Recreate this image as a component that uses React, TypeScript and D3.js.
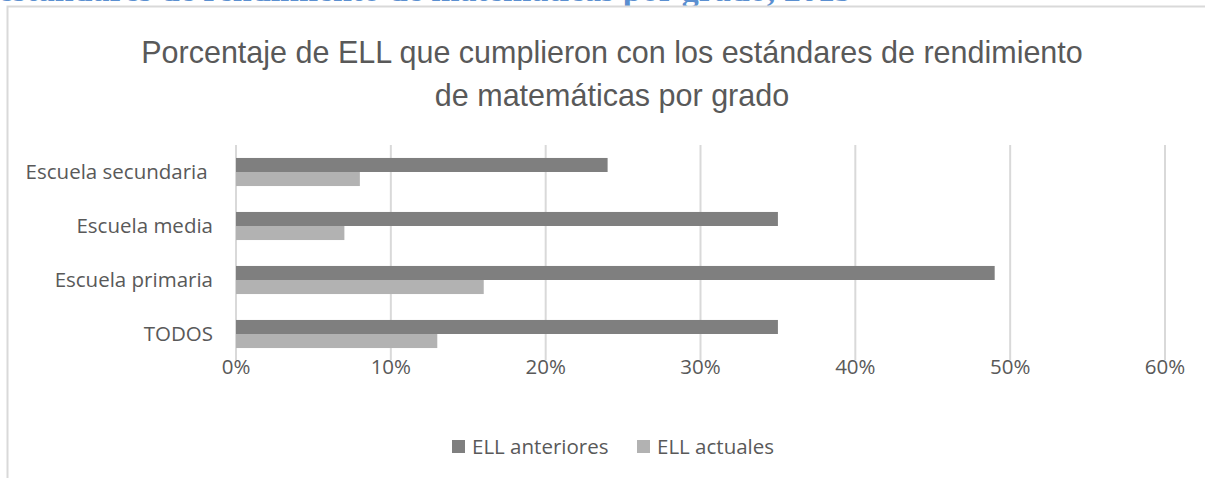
import React from "react";
import * as d3 from "d3";

const categories = ["Escuela secundaria ", "Escuela media", "Escuela primaria", "TODOS"];
const seriesNames = ["ELL anteriores", "ELL actuales"];
const anteriores = [0.24, 0.35, 0.49, 0.35];
const actuales = [0.08, 0.07, 0.16, 0.13];
const xTicks = [0, 0.1, 0.2, 0.3, 0.4, 0.5, 0.6];
const titleLines = [
  "Porcentaje de ELL que cumplieron con los estándares de rendimiento",
  "de matemáticas por grado",
];
const headingText = "estándares de rendimiento de matemáticas por grado, 2015";

const colors = ["#7f7f7f", "#b2b2b2"];
const W = 1205;
const H = 478;

export default function App() {
  const x = d3.scaleLinear().domain([0, 0.6]).range([236, 1165]);
  const y = d3
    .scaleBand<string>()
    .domain(categories)
    .range([145, 361])
    .paddingInner(0.48)
    .paddingOuter(0.24);
  const sub = d3.scaleBand<string>().domain(seriesNames).range([0, y.bandwidth()]);
  const series = [anteriores, actuales];
  const fmt = d3.format(".0%");
  const font = "'Open Sans', sans-serif";
  const fs = 20.5;

  return (
    <div style={{ position: "fixed", left: 0, top: 0 }}>
      <svg width={W} height={H} style={{ display: "block", background: "#fff" }}>
        <text
          x={-2}
          y={1}
          fontFamily="'Liberation Serif', serif"
          fontWeight="bold"
          fontSize={34}
          fill="#5b8fd0"
        >
          {headingText}
        </text>
        <rect x={7.5} y={6.5} width={W} height={H} fill="#fff" stroke="#d9d9d9" strokeWidth={2} />
        {titleLines.map((t, i) => (
          <text
            key={i}
            x={612}
            y={63 + i * 43}
            textAnchor="middle"
            fontFamily="'Liberation Sans', Arial, sans-serif"
            fontSize={30.5}
            fill="#595959"
          >
            {t}
          </text>
        ))}
        {xTicks.map((t) => (
          <g key={t}>
            <line x1={x(t)} x2={x(t)} y1={145} y2={360} stroke="#d9d9d9" strokeWidth={2} />
            <text
              x={x(t)}
              y={374}
              textAnchor="middle"
              fontFamily={font}
              fontSize={fs}
              fill="#595959"
            >
              {fmt(t)}
            </text>
          </g>
        ))}
        {categories.map((c, i) => (
          <g key={c}>
            {series.map((s, j) => (
              <rect
                key={j}
                x={x(0)}
                y={(y(c) as number) + (sub(seriesNames[j]) as number)}
                width={x(s[i]) - x(0)}
                height={sub.bandwidth()}
                fill={colors[j]}
              />
            ))}
            <text
              x={213}
              y={(y(c) as number) + y.bandwidth() / 2 + 7}
              textAnchor="end"
              fontFamily={font}
              fontSize={fs}
              fill="#595959"
              style={{ whiteSpace: "pre" }}
            >
              {c}
            </text>
          </g>
        ))}
        {seriesNames.map((n, j) => {
          const lx = j === 0 ? 452 : 637;
          return (
            <g key={n}>
              <rect x={lx} y={440} width={13} height={13} fill={colors[j]} />
              <text x={lx + 20} y={454} fontFamily={font} fontSize={fs} fill="#595959">
                {n}
              </text>
            </g>
          );
        })}
      </svg>
    </div>
  );
}
